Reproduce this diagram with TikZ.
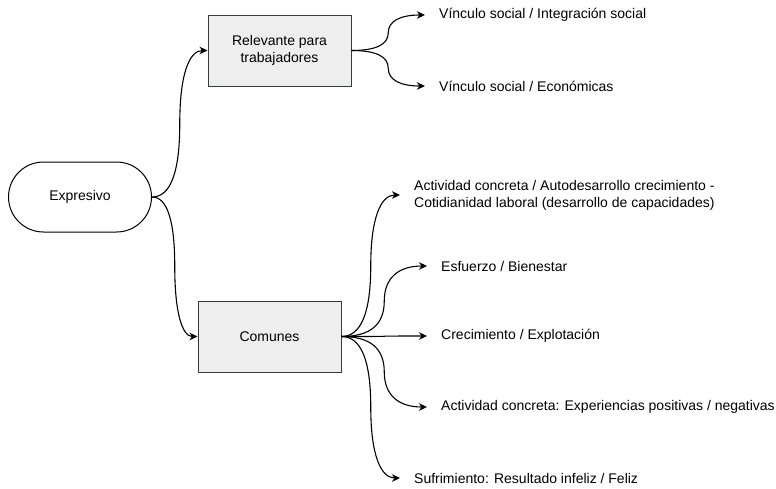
\documentclass[tikz,border=0pt]{standalone}
\usepackage{fontspec}
\setmainfont{Liberation Sans}
\usetikzlibrary{%
    arrows.meta,calc%
}
\definecolor{boxfill}{HTML}{EEEEEE}
\definecolor{boxline}{HTML}{36393D}

\begin{document}
\begin{tikzpicture}[x=1pt,y=-1pt,
    font=\fontsize{14}{17}\selectfont,
    >={Stealth[length=8pt,width=7.5pt,inset=2.5pt]},
    box/.style={draw=boxline,fill=boxfill,line width=1pt,minimum width=143pt,minimum height=71pt,align=center},
    pill/.style={draw,line width=1pt,rounded corners=35pt,minimum width=143pt,minimum height=70pt},
    lab/.style={anchor=west,align=left,inner xsep=14pt,inner ysep=2pt},
    conn/.style={->,line width=1.1pt},
    curv/.style={to path={let \p1=(\tikztostart),\p2=(\tikztotarget),\n1={(\x1+\x2)/2},\n2={(\y1+\y2)/2} in
        .. controls ({\x1+2/3*(\n1-\x1)},\y1) and (\n1,{\n2+2/3*(\y1-\n2)}) .. (\n1,\n2)
        .. controls (\n1,{\n2+2/3*(\y2-\n2)}) and ({\x2+2/3*(\n1-\x2)},\y2) .. (\tikztotarget)}}]
\useasboundingbox (0,0) rectangle (776,488);

\node[pill] (expr) at (80,197) {Expresivo};
\node[box] (relev) at (279.5,50.5) {Relevante para\\trabajadores};
\node[box] (comun) at (269.5,336.5) {Comunes};

% salidas de Relevante
\node[lab] (v1) at (425,15) {Vínculo social / Integración social};
\node[lab] (v2) at (425,86) {Vínculo social / Económicas};

% salidas de Comunes
\node[lab] (c1) at (400,195) {Actividad concreta / Autodesarrollo crecimiento -\\Cotidianidad laboral (desarrollo de capacidades)};
\node[lab] (c2) at (427,266) {Esfuerzo / Bienestar};
\node[lab] (c3) at (427,336) {Crecimiento / Explotación};
\node[lab] (c4) at (427,407) {Actividad concreta: Experiencias positivas / negativas};
\node[lab] (c5) at (400,478) {Sufrimiento: Resultado infeliz / Feliz};

\draw[conn] (expr.east) to[curv] (relev.west);
\draw[conn] (expr.east) to[curv] (comun.west);

\draw[conn] (relev.east) to[curv] (v1.west);
\draw[conn] (relev.east) to[curv] (v2.west);

\foreach \t in {c1,c2,c3,c4,c5}
    \draw[conn] (comun.east) to[curv] (\t.west);

\end{tikzpicture}
\end{document}
